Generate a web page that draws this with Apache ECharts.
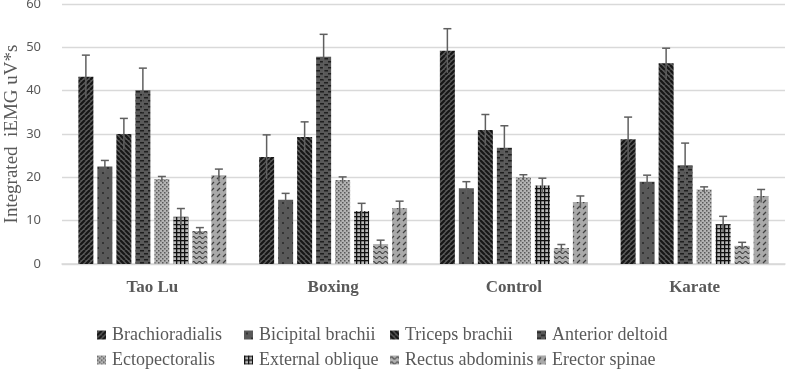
<!DOCTYPE html>
<html>
<head>
<meta charset="utf-8">
<script src="https://cdn.jsdelivr.net/npm/echarts@6/dist/echarts.min.js"></script>
<style>
html, body { margin: 0; padding: 0; background: #fff; }
#chart { width: 788px; height: 369px; }
</style>
</head>
<body>
<div id="chart"></div>
<script>
var categories = ['Tao Lu', 'Boxing', 'Control', 'Karate'];
var muscles = ['Brachioradialis', 'Bicipital brachii', 'Triceps brachii', 'Anterior deltoid',
    'Ectopectoralis', 'External oblique', 'Rectus abdominis', 'Erector spinae'];

// means per group
var brachioradialis = [43.2, 24.7, 49.2, 28.8];
var bicipital = [22.5, 14.8, 17.5, 19.0];
var triceps = [30.0, 29.3, 30.9, 46.3];
var anteriorDeltoid = [40.1, 47.8, 26.8, 22.8];
var ectopectoralis = [19.6, 19.4, 20.0, 17.2];
var externalOblique = [10.9, 12.2, 18.1, 9.2];
var rectusAbdominis = [7.6, 4.6, 3.7, 4.2];
var erectorSpinae = [20.5, 12.9, 14.3, 15.7];

// error bars
var brachioradialisErr = [5.0, 5.1, 5.1, 5.1];
var bicipitalErr = [1.4, 1.5, 1.5, 1.5];
var tricepsErr = [3.6, 3.5, 3.6, 3.5];
var anteriorDeltoidErr = [5.1, 5.2, 5.1, 5.1];
var ectopectoralisErr = [0.6, 0.7, 0.6, 0.6];
var externalObliqueErr = [1.9, 1.8, 1.7, 1.8];
var rectusAbdominisErr = [0.8, 0.9, 0.8, 0.8];
var erectorSpinaeErr = [1.4, 1.6, 1.4, 1.5];

var yTicks = [0, 10, 20, 30, 40, 50, 60];

var values = [brachioradialis, bicipital, triceps, anteriorDeltoid,
    ectopectoralis, externalOblique, rectusAbdominis, erectorSpinae];
var errors = [brachioradialisErr, bicipitalErr, tricepsErr, anteriorDeltoidErr,
    ectopectoralisErr, externalObliqueErr, rectusAbdominisErr, erectorSpinaeErr];

// fill patterns
function tile(w, h, bg, draw) {
    var c = document.createElement('canvas');
    c.width = w; c.height = h;
    var ctx = c.getContext('2d');
    ctx.fillStyle = bg;
    ctx.fillRect(0, 0, w, h);
    draw(ctx, w, h);
    return { image: c, repeat: 'repeat' };
}

var patterns = [
    tile(5, 5, '#5a5a5a', function (ctx) {
        ctx.strokeStyle = '#161616'; ctx.lineWidth = 2.2;
        ctx.beginPath();
        [-5, 0, 5].forEach(function (k) { ctx.moveTo(k, 5); ctx.lineTo(k + 5, 0); });
        ctx.stroke();
    }),
    tile(10, 10, '#595959', function (ctx) {
        ctx.fillStyle = '#333';
        ctx.fillRect(2, 2, 2, 2);
        ctx.fillRect(7, 7, 2, 2);
    }),
    tile(5, 5, '#5a5a5a', function (ctx) {
        ctx.strokeStyle = '#161616'; ctx.lineWidth = 2.2;
        ctx.beginPath();
        [-5, 0, 5].forEach(function (k) { ctx.moveTo(k, 0); ctx.lineTo(k + 5, 5); });
        ctx.stroke();
    }),
    tile(8, 6, '#595959', function (ctx) {
        ctx.fillStyle = '#1f1f1f';
        ctx.fillRect(0, 1, 4, 1.5);
        ctx.fillRect(4, 4, 4, 1.5);
    }),
    tile(4, 4, '#b3b3b3', function (ctx) {
        ctx.fillStyle = '#5a5a5a';
        ctx.fillRect(0, 0, 1.5, 1.5);
        ctx.fillRect(2, 2, 1.5, 1.5);
    }),
    tile(4, 4, '#b8b8b8', function (ctx) {
        ctx.fillStyle = '#111';
        ctx.fillRect(0, 0, 4, 1.3);
        ctx.fillRect(0, 0, 1.3, 4);
    }),
    tile(6, 5, '#b0b0b0', function (ctx) {
        ctx.strokeStyle = '#3a3a3a'; ctx.lineWidth = 1.1;
        ctx.beginPath();
        ctx.moveTo(0, 2.5);
        ctx.quadraticCurveTo(1.5, 0.5, 3, 2.5);
        ctx.quadraticCurveTo(4.5, 4.5, 6, 2.5);
        ctx.stroke();
    }),
    tile(6, 6, '#a9a9a9', function (ctx) {
        ctx.strokeStyle = '#404040'; ctx.lineWidth = 1.2;
        ctx.beginPath();
        ctx.moveTo(1, 5); ctx.lineTo(4, 2);
        ctx.stroke();
    })
];

var barW = 15, barGapPx = 4;
var groupW = muscles.length * barW + (muscles.length - 1) * barGapPx;

var series = [];
muscles.forEach(function (name, i) {
    series.push({
        name: name,
        type: 'bar',
        barWidth: barW,
        barGap: (barGapPx / barW * 100) + '%',
        itemStyle: { color: patterns[i] },
        data: values[i]
    });
});
muscles.forEach(function (name, i) {
    series.push({
        type: 'custom',
        silent: true,
        z: 5,
        data: values[i].map(function (v, k) { return [k, v, errors[i][k]]; }),
        encode: { x: 0, y: 1 },
        renderItem: function (params, api) {
            var ci = api.value(0), v = api.value(1), e = api.value(2);
            var c = api.coord([ci, v]);
            var x = c[0] - groupW / 2 + i * (barW + barGapPx) + barW / 2;
            var top = api.coord([ci, v + e])[1];
            var bot = api.coord([ci, v - e])[1];
            var st = { stroke: '#5f5f5f', lineWidth: 1.5 };
            return {
                type: 'group',
                children: [
                    { type: 'line', shape: { x1: x, y1: top, x2: x, y2: bot }, style: st },
                    { type: 'line', shape: { x1: x - 4, y1: top, x2: x + 4, y2: top }, style: st }
                ]
            };
        }
    });
});

// one legend per item so they sit in a 4-column grid
var legendLeft = [92, 239, 385, 532];
var legendTop = [321, 346];
var legends = muscles.map(function (name, i) {
    return {
        data: [name],
        left: legendLeft[i % 4],
        top: legendTop[Math.floor(i / 4)],
        itemWidth: 9, itemHeight: 9, icon: 'rect', itemGap: 0,
        textStyle: { fontFamily: 'Liberation Serif', fontSize: 18, color: '#595959', padding: [0, 0, 0, 1] }
    };
});

var chart = echarts.init(document.getElementById('chart'));
chart.setOption({
    animation: false,
    grid: { left: 62, right: 3, top: 4, bottom: 105, containLabel: false, outerBoundsMode: 'none' },
    legend: legends,
    xAxis: {
        type: 'category',
        data: categories,
        axisLine: { lineStyle: { color: '#d9d9d9', width: 1.5 } },
        axisTick: { show: false },
        axisLabel: {
            fontFamily: 'Liberation Serif', fontWeight: 'bold', fontSize: 17,
            color: '#595959', margin: 15
        }
    },
    yAxis: {
        type: 'value',
        min: yTicks[0], max: yTicks[yTicks.length - 1], interval: 10,
        name: 'Integrated  iEMG uV*s',
        nameLocation: 'middle',
        nameRotate: 90,
        nameGap: 40,
        nameMoveOverlap: false,
        nameTextStyle: { fontFamily: 'Liberation Serif', fontSize: 19, color: '#595959' },
        axisLine: { show: false },
        axisTick: { show: false },
        splitLine: { lineStyle: { color: '#d9d9d9', width: 1.3 } },
        axisLabel: { fontFamily: 'Noto Sans', fontSize: 13, color: '#595959', margin: 21 }
    },
    series: series
});
</script>
</body>
</html>
